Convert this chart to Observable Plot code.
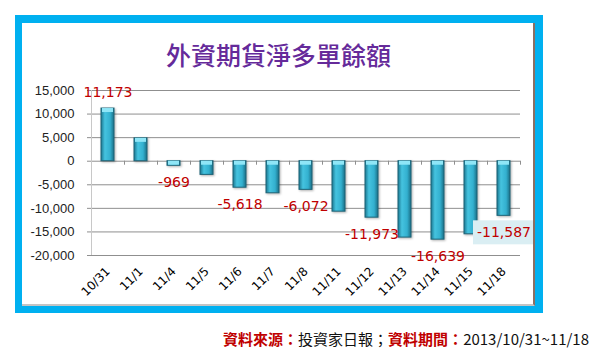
<!DOCTYPE html>
<html><head><meta charset="utf-8">
<script src="https://cdn.jsdelivr.net/npm/d3@7"></script>
<script src="https://cdn.jsdelivr.net/npm/@observablehq/plot@0.6"></script>
<style>
html,body{margin:0;padding:0;background:#fff;width:600px;height:360px;overflow:hidden}
#frame{position:absolute;left:15px;top:15px;width:528px;height:298px;background:#00B0F0}
#inner{position:absolute;left:7px;top:8px;width:511px;height:281px;background:#fff;border-right:2px solid #8a6e62;border-bottom:2px solid #c4c4c4}
#title{position:absolute;left:0;top:16px;width:513px;text-align:center;font-family:"Noto Sans CJK TC",sans-serif;font-size:25px;line-height:30px;color:#652a9a;font-weight:500}
#chart{position:absolute;left:0;top:55px}
#footer{position:absolute;right:11px;top:329px;font-family:"Noto Sans CJK TC",sans-serif;font-size:15px;line-height:20px;color:#111;white-space:nowrap}
#footer .r{color:#c00000;font-weight:bold}
</style>
</head><body>
<div id="frame"><div id="inner"><div id="title">外資期貨淨多單餘額</div><div id="chart"></div></div></div>
<div id="footer"><span class="r">資料來源：</span>投資家日報；<span class="r">資料期間：</span>2013/10/31~11/18</div>
<script>
const dates = ["10/31","11/1","11/4","11/5","11/6","11/7","11/8","11/11","11/12","11/13","11/14","11/15","11/18"];
const values = [11173, 4850, -969, -2900, -5618, -6800, -6072, -10700, -11973, -16200, -16639, -15500, -11587];
const yTicks = [-20000,-15000,-10000,-5000,0,5000,10000,15000];
const labeledDates = ["10/31","11/4","11/6","11/8","11/12","11/14","11/18"];
const highlightDate = "11/18";

const data = dates.map((d,i)=>({date:d, value:values[i]}));
const labels = data.filter(d=>labeledDates.includes(d.date));
const fmt = v => v.toLocaleString("en-US");

const W=511,H=226,ML=69,MR=13,MT=12,MB=49;
const step=(W-ML-MR)/dates.length;
const ns="http://www.w3.org/2000/svg";

function defs(){
  const d=document.createElementNS(ns,"defs");
  d.innerHTML = `<linearGradient id="barGrad" x1="0" x2="1" y1="0" y2="0">
    <stop offset="0" stop-color="#1b7891"/><stop offset="0.3" stop-color="#45c3df"/>
    <stop offset="0.7" stop-color="#33b0cf"/><stop offset="1" stop-color="#1a6f86"/></linearGradient>`;
  return d;
}

const chart = Plot.plot({
  width:W,height:H,marginLeft:ML,marginRight:MR,marginTop:MT,marginBottom:MB,
  style:{fontFamily:"'DejaVu Sans', sans-serif", fontSize:"11px", background:"transparent", color:"#000"},
  x:{domain:dates, paddingInner:0.6, paddingOuter:0.3, label:null, axis:null},
  y:{domain:[-20000,15000], label:null, axis:null},
  marks:[
    defs,
    Plot.ruleY(yTicks,{stroke:"#8f8f8f",insetLeft:-4}),
    Plot.ruleX([dates[0]],{dx:-step/2, stroke:"#c8c8c8"}),
    Plot.ruleX(dates,{y1:0,y2:0,insetBottom:-4,dx:step/2,stroke:"#8f8f8f"}),
    Plot.barY(data,{x:"date",y:"value",fill:"url(#barGrad)",stroke:"#1c6478",strokeWidth:1}),
    Plot.barY(data,{x:"date",y1:d=>Math.max(0,d.value),y2:d=>Math.max(0,d.value),insetBottom:-4,insetLeft:1,insetRight:1,fill:"#8fe6f7"}),
    Plot.axisY(yTicks,{tickSize:0,tickPadding:17,tickFormat:fmt,fontSize:13,fontFamily:"'Liberation Sans', Arial, sans-serif",color:"#222"}),
    Plot.axisX({tickSize:0,tickRotate:-45,tickPadding:14,fontSize:12,color:"#000"}),
    Plot.text(labels.filter(d=>d.value>0),{x:"date",y:"value",text:d=>fmt(d.value),dy:-16,fill:"#c00000",fontSize:14}),
    Plot.text(labels.filter(d=>d.value<0),{x:"date",y:"value",text:d=>fmt(d.value),dy:17,fill:"#c00000",fontSize:14})
  ]
});
document.getElementById("chart").append(chart);

const bars = chart.querySelector('g[aria-label="bar"]');
if (bars) bars.style.filter = "drop-shadow(1.5px 1.5px 1px rgba(0,0,0,0.3))";

const hv = fmt(values[dates.indexOf(highlightDate)]);
const t = [...chart.querySelectorAll("text")].find(e=>e.textContent===hv);
if (t) {
  const b=t.getBBox();
  const r=document.createElementNS(ns,"rect");
  r.setAttribute("x",b.x-4); r.setAttribute("y",b.y-4);
  r.setAttribute("width",b.width+8); r.setAttribute("height",b.height+8);
  r.setAttribute("fill","#daeef3");
  const tr=t.getAttribute("transform"); if (tr) r.setAttribute("transform",tr);
  t.parentNode.insertBefore(r,t);
}
</script>
</body></html>
